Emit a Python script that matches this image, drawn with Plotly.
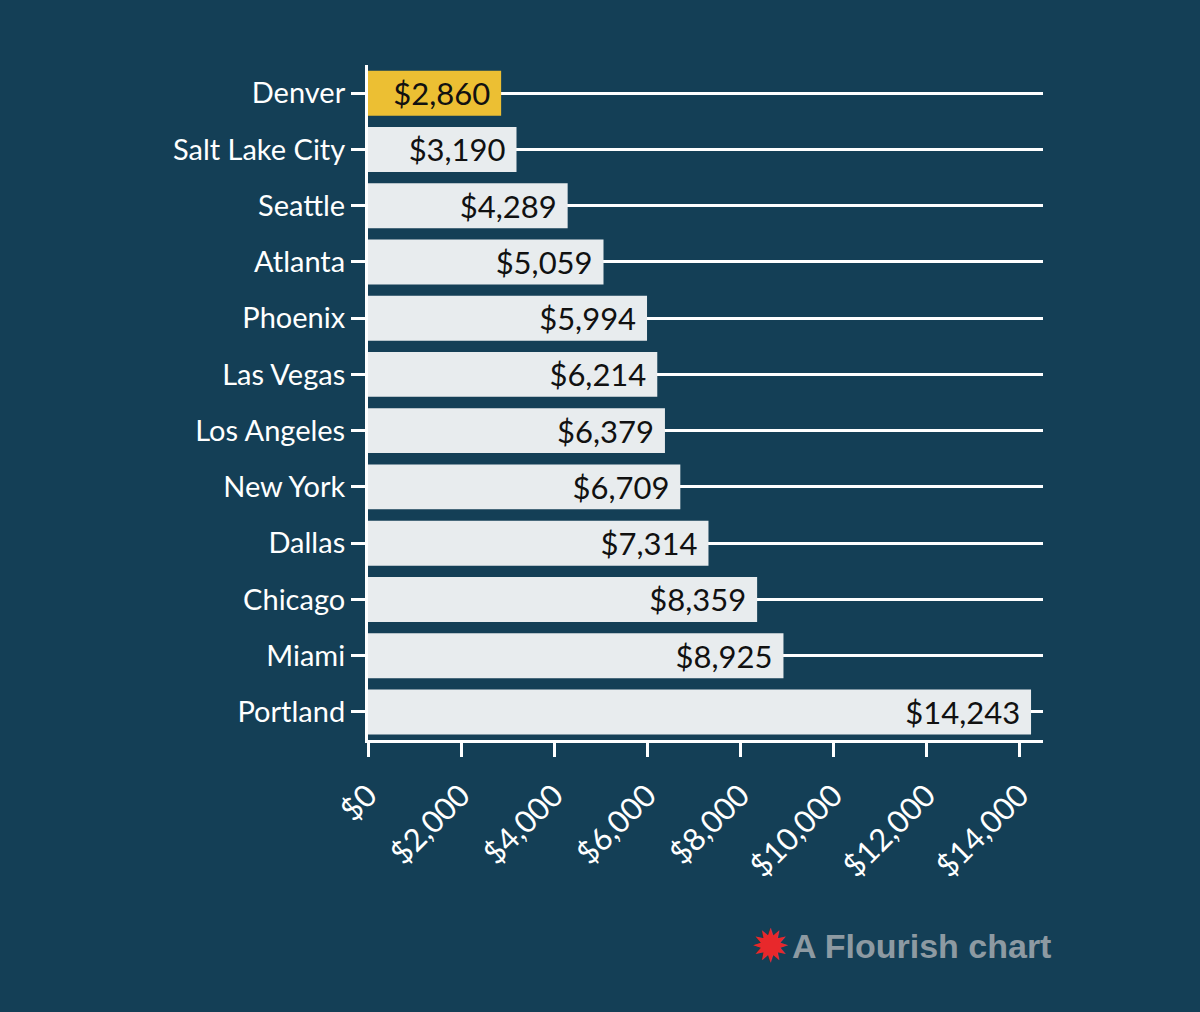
import plotly.graph_objects as go

cities = ["Denver", "Salt Lake City", "Seattle", "Atlanta", "Phoenix", "Las Vegas",
          "Los Angeles", "New York", "Dallas", "Chicago", "Miami", "Portland"]
values = [2860, 3190, 4289, 5059, 5994, 6214, 6379, 6709, 7314, 8359, 8925, 14243]
highlight = "Denver"
x_tick_vals = [0, 2000, 4000, 6000, 8000, 10000, 12000, 14000]
x_tick_text = ["$0", "$2,000", "$4,000", "$6,000", "$8,000", "$10,000", "$12,000", "$14,000"]

BG = "#143f56"
BAR = "#e8ecee"
GOLD = "#ecbf33"
FONT = "Lato"

colors = [GOLD if c == highlight else BAR for c in cities]

fig = go.Figure(go.Bar(
    x=values, y=cities, orientation="h",
    marker=dict(color=colors, line=dict(width=0)),
    text=[f"${v:,}\u00a0" for v in values],
    textposition="inside", insidetextanchor="end",
    textfont=dict(family=FONT, size=31, color="#111111"),
    constraintext="none",
    cliponaxis=False,
    hoverinfo="skip",
))

fig.update_layout(
    width=1200, height=1012,
    paper_bgcolor=BG, plot_bgcolor=BG,
    margin=dict(l=368, r=157, t=65, b=272),
    bargap=0.2,
    showlegend=False,
    font=dict(family=FONT, color="white"),
)

fig.update_xaxes(
    range=[0, 14500],
    tickvals=x_tick_vals, ticktext=x_tick_text,
    tickangle=-45,
    tickfont=dict(family=FONT, size=31, color="white"),
    ticks="outside", ticklen=14, tickwidth=3, tickcolor="white",
    ticklabelstandoff=8,
    showline=True, linecolor="white", linewidth=3,
    showgrid=False, zeroline=False,
)
fig.update_yaxes(
    categoryorder="array", categoryarray=cities, autorange="reversed",
    tickfont=dict(family=FONT, size=29, color="white"),
    ticks="outside", ticklen=14, tickwidth=3, tickcolor="white",
    showline=True, linecolor="white", linewidth=3,
    showgrid=True, gridcolor="white", gridwidth=3,
    zeroline=False,
)

fig.add_annotation(
    xref="paper", yref="paper", x=1.015, y=-0.305, xanchor="right", yanchor="middle",
    text="<b>A Flourish chart</b>",
    showarrow=False,
    font=dict(family="Liberation Sans", size=34, color="#8d9aa2"),
)
fig.add_annotation(
    xref="paper", yref="paper", x=0.628, y=-0.305, xanchor="right", yanchor="middle",
    text="✹",
    showarrow=False,
    font=dict(family="DejaVu Sans", size=46, color="#e8282b"),
)

fig.write_html("out.html", config={"displayModeBar": False},
               post_script="document.body.style.margin='0';")
